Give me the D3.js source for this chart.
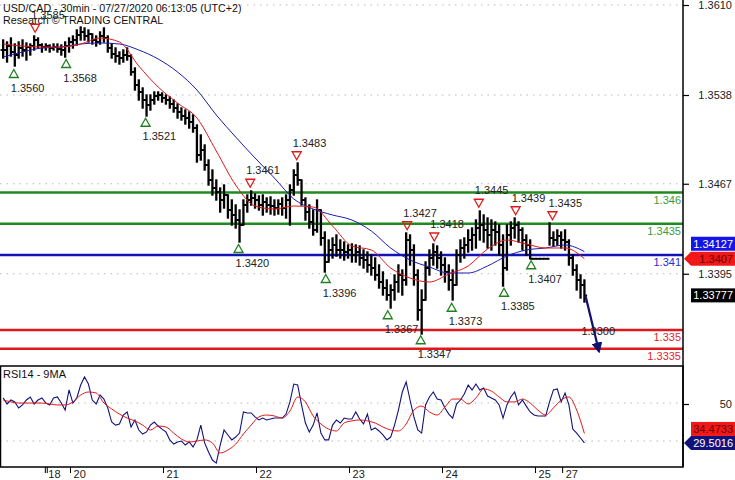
<!DOCTYPE html>
<html><head><meta charset="utf-8">
<script src="https://cdn.jsdelivr.net/npm/d3@7"></script>
<style>
html,body{margin:0;padding:0;background:#fff;}
svg{display:block;font-family:"Liberation Sans",Arial,Helvetica,sans-serif;}
</style></head><body>
<svg id="c" width="735" height="480"></svg>
<script>
// ---------------- DATA ----------------
const titleText = "USD/CAD - 30min - 07/27/2020 06:13:05 (UTC+2)";
const creditText = "Research \u00A9 TRADING CENTRAL";
const rsiTitle = "RSI14 - 9MA";

// hourly bars (two 30-min slots each)
const barHigh = [
1.35820,1.35804,1.35836,1.35788,1.35804,1.35820,1.35796,1.35788,1.35852,1.35836,
1.35788,1.35788,1.35780,1.35788,1.35788,1.35780,1.35804,1.35836,1.35852,1.35900,
1.35924,1.35916,1.35900,1.35868,1.35852,1.35884,1.35916,1.35852,1.35788,1.35756,
1.35724,1.35740,1.35756,1.35700,1.35596,1.35500,1.35436,1.35380,1.35380,1.35404,
1.35404,1.35396,1.35380,1.35364,1.35340,1.35308,1.35276,1.35260,1.35244,1.35220,
1.35140,1.35060,1.34980,1.34860,1.34780,1.34700,1.34636,1.34660,1.34580,1.34540,
1.34500,1.34460,1.34540,1.34580,1.34612,1.34588,1.34572,1.34580,1.34556,1.34564,
1.34540,1.34540,1.34556,1.34580,1.34660,1.34780,1.34836,1.34700,1.34556,1.34500,
1.34460,1.34540,1.34460,1.34284,1.34220,1.34236,1.34260,1.34220,1.34204,1.34180,
1.34188,1.34180,1.34172,1.34140,1.34124,1.34100,1.34076,1.34020,1.33964,1.33900,
1.33860,1.33940,1.34020,1.33980,1.34276,1.34260,1.34180,1.33980,1.33820,1.34044,
1.34140,1.34188,1.34172,1.34124,1.34076,1.34020,1.33980,1.34140,1.34220,1.34236,
1.34300,1.34316,1.34380,1.34452,1.34420,1.34396,1.34380,1.34364,1.34340,1.34260,
1.34340,1.34364,1.34396,1.34364,1.34316,1.34260,1.34220,1.34070,1.34070,1.34070,
1.34070,1.34356,1.34284,1.34300,1.34284,1.34300,1.34220,1.34100,1.34020,1.33940,1.33900];
const barLow = [
1.35676,1.35644,1.35692,1.35612,1.35676,1.35692,1.35660,1.35700,1.35740,1.35756,
1.35724,1.35740,1.35724,1.35740,1.35724,1.35700,1.35684,1.35724,1.35756,1.35780,
1.35820,1.35820,1.35804,1.35788,1.35772,1.35788,1.35804,1.35724,1.35676,1.35644,
1.35628,1.35644,1.35660,1.35540,1.35420,1.35340,1.35276,1.35212,1.35260,1.35308,
1.35340,1.35324,1.35308,1.35276,1.35244,1.35196,1.35180,1.35148,1.35116,1.35084,
1.34844,1.34860,1.34780,1.34660,1.34580,1.34540,1.34444,1.34476,1.34396,1.34340,
1.34316,1.34204,1.34340,1.34444,1.34500,1.34476,1.34460,1.34420,1.34444,1.34428,
1.34420,1.34428,1.34420,1.34396,1.34340,1.34580,1.34660,1.34500,1.34380,1.34316,
1.34260,1.34284,1.34180,1.33964,1.34044,1.34076,1.34092,1.34076,1.34060,1.34076,
1.34044,1.34044,1.34020,1.33996,1.33964,1.33940,1.33900,1.33836,1.33780,1.33740,
1.33676,1.33740,1.33804,1.33780,1.33860,1.34020,1.33860,1.33580,1.33468,1.33740,
1.33940,1.34020,1.33996,1.33940,1.33884,1.33820,1.33740,1.33860,1.34044,1.34076,
1.34124,1.34140,1.34156,1.34220,1.34204,1.34156,1.34140,1.34180,1.34100,1.33852,
1.33980,1.34180,1.34236,1.34204,1.34140,1.34100,1.34070,1.34070,1.34070,1.34070,
1.34070,1.34180,1.34172,1.34180,1.34156,1.34140,1.34020,1.33940,1.33820,1.33756,1.33724];
const barClose = [
1.35740,1.35772,1.35724,1.35700,1.35756,1.35740,1.35764,1.35772,1.35820,1.35780,
1.35764,1.35772,1.35756,1.35764,1.35748,1.35740,1.35772,1.35804,1.35820,1.35860,
1.35884,1.35852,1.35868,1.35820,1.35804,1.35852,1.35836,1.35756,1.35708,1.35692,
1.35676,1.35700,1.35692,1.35564,1.35460,1.35404,1.35340,1.35300,1.35340,1.35372,
1.35380,1.35356,1.35340,1.35308,1.35276,1.35244,1.35212,1.35196,1.35164,1.35116,
1.34900,1.34940,1.34820,1.34700,1.34636,1.34604,1.34540,1.34580,1.34460,1.34420,
1.34380,1.34340,1.34500,1.34540,1.34556,1.34540,1.34500,1.34524,1.34500,1.34492,
1.34476,1.34508,1.34476,1.34540,1.34620,1.34740,1.34700,1.34540,1.34444,1.34364,
1.34300,1.34460,1.34236,1.34044,1.34140,1.34180,1.34140,1.34140,1.34124,1.34140,
1.34100,1.34124,1.34076,1.34060,1.34020,1.33996,1.33940,1.33884,1.33836,1.33780,
1.33820,1.33884,1.33940,1.33900,1.34220,1.34140,1.33940,1.33660,1.33740,1.33996,
1.34076,1.34124,1.34076,1.34020,1.33964,1.33900,1.33860,1.34100,1.34156,1.34180,
1.34220,1.34260,1.34316,1.34340,1.34300,1.34260,1.34300,1.34284,1.34180,1.33996,
1.34260,1.34316,1.34340,1.34300,1.34220,1.34180,1.34070,1.34070,1.34070,1.34070,
1.34070,1.34236,1.34220,1.34252,1.34220,1.34204,1.34076,1.33980,1.33900,1.33860,1.33777];

// moving averages, one value every 5 hours
const maFast = [1.35788,1.35772,1.35764,1.35764,1.35788,1.35836,1.35804,1.35612,1.35444,1.35316,
1.35196,1.34932,1.34660,1.34492,1.34468,1.34492,1.34484,1.34332,1.34172,1.34140,
1.33996,1.33916,1.33884,1.33948,1.34012,1.34148,1.34220,1.34188,1.34156,1.34156,1.34070];
const maSlow = [1.35684,1.35724,1.35756,1.35764,1.35788,1.35796,1.35788,1.35740,1.35668,1.35564,
1.35420,1.35220,1.35044,1.34876,1.34716,1.34548,1.34468,1.34420,1.34380,1.34292,
1.34156,1.34060,1.34004,1.33956,1.33956,1.34012,1.34092,1.34140,1.34156,1.34180,1.34127];

// RSI14, hourly; and its 9MA, one value every 2 hours
const rsi = [
53.2,50.0,52.1,51.1,47.9,49.5,52.1,53.7,50.0,52.1,
53.2,50.5,49.5,53.2,53.7,50.5,46.8,57.4,50.5,53.2,
60.0,64.2,60.5,52.1,50.0,54.7,52.6,47.9,40.5,38.9,
39.5,44.2,45.8,37.9,41.6,36.3,34.2,35.3,38.9,40.5,
38.4,36.8,35.3,31.1,28.9,30.0,30.5,28.4,30.0,27.4,
31.1,38.9,29.5,24.7,20.5,18.9,28.4,36.3,33.7,31.1,
32.6,34.7,45.8,45.3,45.3,43.2,41.6,42.6,41.6,42.1,
42.6,42.6,42.6,44.7,51.1,60.5,60.0,49.5,40.0,35.3,
38.9,45.3,34.7,31.1,31.1,38.9,41.6,40.0,42.6,42.1,
42.1,45.8,42.1,39.5,44.7,36.3,37.4,35.8,33.7,31.1,
32.6,38.9,46.8,56.3,61.6,52.1,43.2,36.3,34.7,49.5,
53.7,56.3,52.6,52.1,47.9,44.7,42.6,50.0,52.1,55.3,
60.0,57.4,60.5,57.4,58.4,54.2,53.2,52.1,49.5,42.6,
49.5,53.7,56.3,49.5,52.1,48.9,45.8,44.2,43.7,43.7,
43.7,51.1,57.4,57.9,51.1,55.8,49.5,36.8,34.7,32.1,29.5016];
const rsiMA = [
52.1,51.1,50.5,50.5,50.5,50.5,50.0,49.5,49.5,51.1,
54.7,56.3,55.8,50.5,47.4,44.7,42.6,41.1,38.9,36.3,
38.4,37.9,34.7,31.6,30.0,30.5,31.1,29.5,24.2,25.8,
28.9,34.2,38.9,43.2,44.2,43.7,42.6,46.3,53.7,51.1,
43.7,39.5,36.8,35.8,40.0,41.1,41.6,41.1,40.0,37.9,
36.3,35.8,39.5,46.8,48.9,45.8,44.2,48.4,52.6,52.6,
50.0,53.2,57.9,56.8,53.7,51.1,51.1,52.6,50.5,46.8,
44.2,47.9,52.1,53.7,46.8,34.4733];

const priceTicks = [1.3610, 1.3538, 1.3467, 1.3395];
const rsiTicks = [50];
const rsiGrid = [50, 30];
const dayLabels = ["18", "", "20", "21", "22", "23", "24", "25", "27"];
const dayBars   = [22, 23, 35, 83, 131, 179, 227, 275, 289];   // 30-min slot index

const levelValues = [1.346, 1.3435, 1.341, 1.335, 1.3335];
const levelLabels = ["1.346", "1.3435", "1.341", "1.335", "1.3335"];
const levelKinds  = ["res", "res", "pivot", "sup", "sup"];

const supportValues = [1.3560, 1.3568, 1.3521, 1.3420, 1.3396, 1.3367, 1.3347, 1.3373, 1.3385, 1.3407];
const supportBars   = [6, 33, 74, 122, 167, 199, 216, 232, 259, 273];
const resistValues  = [1.3585, 1.3461, 1.3483, 1.3427, 1.3418, 1.3445, 1.3439, 1.3435];
const resistBars    = [17, 128, 152, 209, 223, 246, 265, 284];

const targetLabel = "1.3300";
const projBars   = [301, 308];
const projValues = [1.33777, 1.3333];

// ---------------- STYLE ----------------
const C = {
  res: "#1f8a1f", resText: "#3c9c3c",
  pivot: "#1414b4", pivotText: "#2a2ad0",
  sup: "#e3161c", supText: "#e3262a",
  maFast: "#e01818", maSlow: "#1c1cb0",
  rsi: "#12127a", rsiMA: "#e01818",
  grid: "#b8b8b8", text: "#222"
};
const FONT = 11;

// ---------------- LAYOUT ----------------
const svg = d3.select("#c");
const plotL = 0, plotR = 683, mainTop = 0, mainBot = 365, rsiTop = 366, rsiBot = 467;
const xs = d3.scaleLinear().domain([0, 300]).range([2.2, 2.2 + 300 * 1.9375]);
const yP = d3.scaleLinear().domain([1.3322, 1.3614]).range([mainBot, mainTop]);
const yR = d3.scaleLinear().domain([16.84, 70]).range([rsiBot, rsiTop]);
const hx = h => xs(2 * h + 0.5);

svg.append("defs").append("clipPath").attr("id", "mainClip")
  .append("rect").attr("x", plotL).attr("y", mainTop).attr("width", plotR - plotL).attr("height", mainBot - mainTop);
svg.select("defs").append("clipPath").attr("id", "rsiClip")
  .append("rect").attr("x", plotL).attr("y", rsiTop).attr("width", plotR - plotL).attr("height", rsiBot - rsiTop);
svg.select("defs").append("marker").attr("id", "ahead").attr("viewBox", "0 0 10 10")
  .attr("refX", 8).attr("refY", 5).attr("markerWidth", 5).attr("markerHeight", 5).attr("orient", "auto")
  .append("path").attr("d", "M0,0 L10,5 L0,10 z").attr("fill", "#101070");

// grid
svg.append("g").selectAll("line").data(priceTicks).join("line")
  .attr("x1", plotL).attr("x2", plotR).attr("y1", d => yP(d)).attr("y2", d => yP(d))
  .attr("stroke", C.grid).attr("stroke-width", 1).attr("stroke-dasharray", "1.5,5");
svg.append("g").selectAll("line").data(rsiGrid).join("line")
  .attr("x1", plotL).attr("x2", plotR).attr("y1", d => yR(d) - 1).attr("y2", d => yR(d) - 1)
  .attr("stroke", C.grid).attr("stroke-width", 1).attr("stroke-dasharray", "1.5,5");

// levels
const levels = svg.append("g");
levels.selectAll("line").data(levelValues).join("line")
  .attr("x1", plotL).attr("x2", plotR).attr("y1", d => yP(d)).attr("y2", d => yP(d))
  .attr("stroke", (d, i) => C[levelKinds[i]]).attr("stroke-width", (d, i) => levelKinds[i] === "pivot" ? 2.6 : 2.3);
levels.selectAll("text").data(levelValues).join("text")
  .attr("x", plotR - 2).attr("y", d => yP(d) + 11).attr("text-anchor", "end")
  .attr("font-size", FONT).attr("fill", (d, i) => C[levelKinds[i] + "Text"])
  .text((d, i) => levelLabels[i]);

// price bars (OHLC)
const bars = svg.append("g").attr("clip-path", "url(#mainClip)");
barHigh.forEach((hi, h) => {
  const x = hx(h), lo = barLow[h], cl = barClose[h], op = h > 0 ? barClose[h - 1] : cl;
  bars.append("line").attr("x1", x).attr("x2", x).attr("y1", yP(hi) - 0.7).attr("y2", yP(lo) + 0.7)
    .attr("stroke", "#000").attr("stroke-width", 2.3);
  bars.append("line").attr("x1", x - 2.7).attr("x2", x).attr("y1", yP(op)).attr("y2", yP(op))
    .attr("stroke", "#000").attr("stroke-width", 1.8);
  bars.append("line").attr("x1", x).attr("x2", x + 2.7).attr("y1", yP(cl)).attr("y2", yP(cl))
    .attr("stroke", "#000").attr("stroke-width", 1.8);
});

// moving averages
const maLine = d3.line().x((d, k) => xs(10 * k + 0.5)).y(d => yP(d)).curve(d3.curveMonotoneX);
svg.append("path").datum(maSlow).attr("d", maLine).attr("fill", "none").attr("stroke", C.maSlow).attr("stroke-width", 1);
svg.append("path").datum(maFast).attr("d", maLine).attr("fill", "none").attr("stroke", C.maFast).attr("stroke-width", 1);

// projection arrow
svg.append("path").datum(projValues)
  .attr("d", d3.line().x((d, i) => xs(projBars[i])).y(d => yP(d)))
  .attr("fill", "none").attr("stroke", "#101070").attr("stroke-width", 2.2).attr("marker-end", "url(#ahead)");
svg.append("text").attr("x", xs(projBars[0]) - 4).attr("y", yP(1.335) + 5)
  .attr("font-size", FONT).attr("fill", C.text).text(targetLabel);

// pivots
const triUp = "M-4.5,4 L4.5,4 L0,-4 Z", triDn = "M-4.5,-4 L4.5,-4 L0,4 Z";
const sg = svg.append("g");
supportValues.forEach((v, i) => {
  const x = xs(supportBars[i]), cy = yP(v) + 6;
  sg.append("path").attr("d", triUp).attr("transform", `translate(${x},${cy})`)
    .attr("fill", "none").attr("stroke", "#1f7f1f").attr("stroke-width", 1.3);
  sg.append("text").attr("x", x - 3).attr("y", cy + 18).attr("font-size", FONT).attr("fill", C.text).text(v.toFixed(4));
});
resistValues.forEach((v, i) => {
  const x = xs(resistBars[i]), cy = yP(v) - 8;
  sg.append("path").attr("d", triDn).attr("transform", `translate(${x},${cy})`)
    .attr("fill", "none").attr("stroke", "#e01818").attr("stroke-width", 1.3);
  sg.append("text").attr("x", x - 4).attr("y", cy - 9).attr("font-size", FONT).attr("fill", C.text).text(v.toFixed(4));
});

// RSI lines
const rsiG = svg.append("g").attr("clip-path", "url(#rsiClip)");
rsiG.append("path").datum(rsi).attr("d", d3.line().x((d, h) => hx(h)).y(d => yR(d)))
  .attr("fill", "none").attr("stroke", C.rsi).attr("stroke-width", 1.1);
rsiG.append("path").datum(rsiMA).attr("d", d3.line().x((d, k) => xs(4 * k + 0.5)).y(d => yR(d)).curve(d3.curveMonotoneX))
  .attr("fill", "none").attr("stroke", C.rsiMA).attr("stroke-width", 1);

// frames
svg.append("rect").attr("x", plotL + 0.5).attr("y", rsiTop).attr("width", plotR - plotL - 0.5).attr("height", rsiBot - rsiTop)
  .attr("fill", "none").attr("stroke", "#000").attr("stroke-width", 1.5);
svg.append("line").attr("x1", plotR).attr("x2", plotR).attr("y1", 0).attr("y2", rsiBot)
  .attr("stroke", "#000").attr("stroke-width", 1.5);

// right axes
const ax = svg.append("g").attr("transform", `translate(${plotR},0)`)
  .call(d3.axisRight(yP).tickValues(priceTicks).tickFormat(d3.format(".4f")).tickSize(6));
const rax = svg.append("g").attr("transform", `translate(${plotR},0)`)
  .call(d3.axisRight(yR).tickValues(rsiTicks).tickFormat(d3.format("d")).tickSize(6));
[ax, rax].forEach(g => {
  g.select(".domain").remove();
  g.selectAll(".tick line").attr("stroke", "#000").attr("stroke-width", 1.2);
  g.selectAll(".tick text").attr("x", 49).attr("text-anchor", "end")
    .attr("font-size", FONT).attr("font-family", null).attr("fill", C.text);
});

// bottom axis
const bx = svg.append("g").attr("transform", `translate(0,${rsiBot})`)
  .call(d3.axisBottom(xs).tickValues(dayBars).tickFormat((d, i) => dayLabels[i]).tickSize(6));
bx.select(".domain").remove();
bx.selectAll(".tick line").attr("stroke", "#000").attr("stroke-width", 1);
bx.selectAll(".tick text").attr("x", 3).attr("y", 10.5).attr("dy", null).attr("text-anchor", "start")
  .attr("font-size", 11).attr("font-family", null).attr("fill", C.text);

// value boxes
function valueBox(y, txt, fill, color, arrow) {
  const g = svg.append("g");
  const x0 = 691, x1 = 735, hh = 7;
  if (arrow) {
    g.append("path").attr("d", `M${plotR + 1},${y} L${x0},${y - hh} L${x1},${y - hh} L${x1},${y + hh} L${x0},${y + hh} Z`).attr("fill", fill);
  } else {
    g.append("rect").attr("x", x0).attr("y", y - hh).attr("width", x1 - x0).attr("height", 2 * hh).attr("fill", fill);
  }
  g.append("text").attr("x", 733).attr("y", y + 4).attr("text-anchor", "end")
    .attr("font-size", FONT).attr("fill", color).text(txt);
}
const fmt = v => String(+v.toFixed(5));
const lastClose = barClose[barClose.length - 1];
const lastFast = maFast[maFast.length - 1], lastSlow = maSlow[maSlow.length - 1];
let ySlow = yP(lastSlow); const yFast = yP(lastFast);
if (Math.abs(ySlow - yFast) < 15) ySlow = yFast - 15;
valueBox(ySlow, fmt(lastSlow), "#1414e6", "#fff", false);
valueBox(yFast, fmt(lastFast), "#f01818", "#6a0000", true);
valueBox(yP(lastClose), fmt(lastClose), "#000", "#fff", false);
const lastR = rsi[rsi.length - 1], lastRM = rsiMA[rsiMA.length - 1];
const yRl = yR(lastR); let yRm = yR(lastRM);
if (Math.abs(yRm - yRl) < 14) yRm = yRl - 14;
valueBox(yRm, lastRM.toFixed(4), "#f01818", "#6a0000", false);
valueBox(yRl, lastR.toFixed(4), "#12127a", "#fff", true);

// titles
svg.append("text").attr("x", 3).attr("y", 12).attr("font-size", 10.7).attr("fill", "#111").text(titleText);
svg.append("text").attr("x", 3).attr("y", 24).attr("font-size", 10.7).attr("fill", "#111").text(creditText);
svg.append("text").attr("x", 3).attr("y", 378).attr("font-size", FONT).attr("fill", "#111").text(rsiTitle);
</script>
</body></html>
